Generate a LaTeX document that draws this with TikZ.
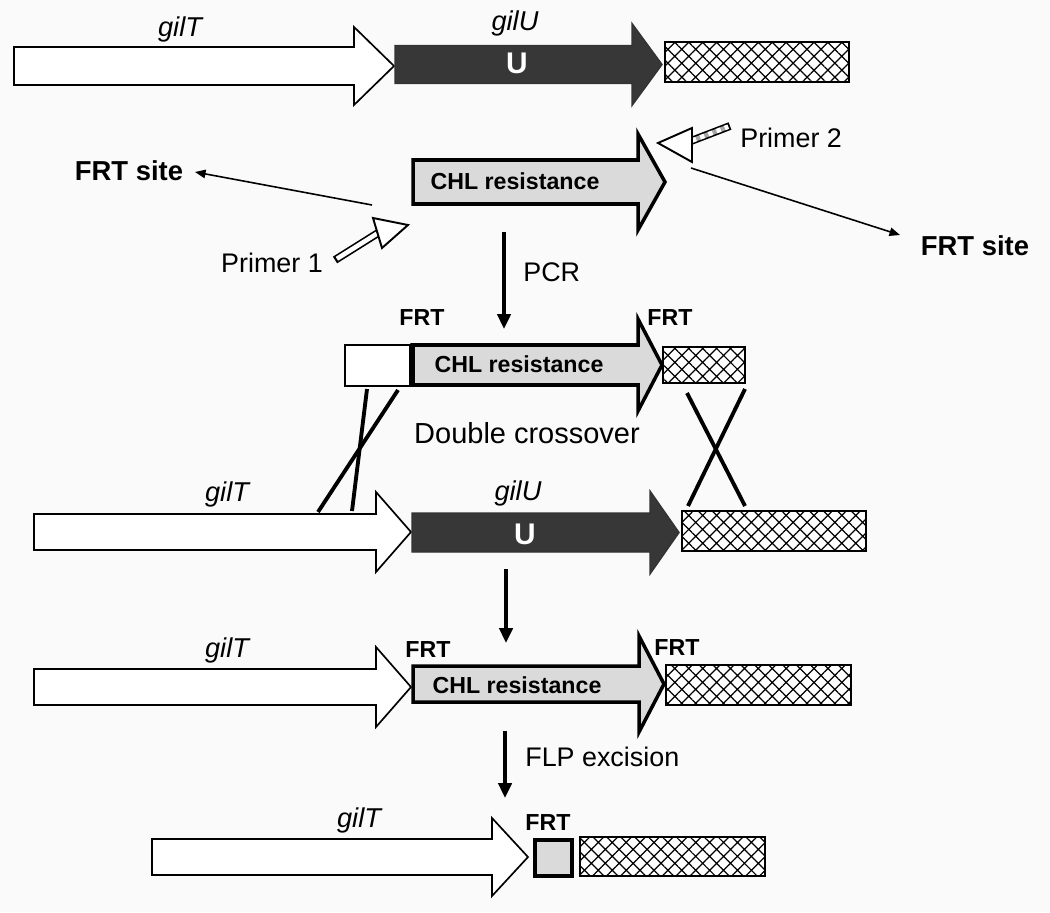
\documentclass[tikz,border=0pt]{standalone}
\usepackage{fontspec}
\setmainfont{Liberation Sans}
\usetikzlibrary{patterns.meta,arrows.meta}
\definecolor{bg}{RGB}{250,250,250}
\definecolor{darkfill}{RGB}{55,55,55}
\definecolor{chlfill}{RGB}{218,218,218}
\newcommand\gene[7]{\draw[#1] (#2,#5-#6) -- (#3,#5-#6) -- (#3,#5-#7) -- (#4,#5) -- (#3,#5+#7) -- (#3,#5+#6) -- (#2,#5+#6) -- cycle;}
\tikzset{
  whitegene/.style={draw=black, fill=white, line width=0.95pt, line join=miter},
  darkgene/.style={draw=black!80, fill=darkfill, line width=0.8pt, line join=miter},
  chlgene/.style={draw=black, fill=chlfill, line width=2pt, line join=miter},
  hatchbox/.style={draw=black, line width=0.8pt, preaction={fill=white}, pattern={Hatch[angle=45,distance=5.6pt,line width=0.7pt]}},
  plainbox/.style={draw=black, fill=white, line width=0.9pt},
  frtbox/.style={draw=black, fill=chlfill, line width=2.2pt},
  primertri/.style={draw=black, fill=white, line width=1.1pt, line join=miter},
  lbl/.style={font=\fontsize{15.3}{18}\selectfont, inner sep=0pt},
  glbl/.style={font=\fontsize{15.5}{18}\selectfont\itshape, inner sep=0pt},
  blbl/.style={font=\fontsize{13.2}{16}\selectfont\bfseries, inner sep=0pt},
  slbl/.style={font=\fontsize{15.6}{18}\selectfont\bfseries, inner sep=0pt},
  ulbl/.style={font=\fontsize{17}{19}\selectfont\bfseries, text=white, inner sep=0pt},
  vconn/.style={line width=2.2pt, -{Triangle[length=8.5pt,width=7.5pt]}},
  thinconn/.style={line width=0.9pt, -{Triangle[length=6pt,width=4.8pt]}},
  xline/.style={line width=2.2pt},
}
\begin{document}
\begin{tikzpicture}[x=0.02cm,y=-0.02cm]
\fill[bg] (0,0) rectangle (1050,912);
\useasboundingbox (0,0) rectangle (1050,912);

% ---------- Row 1: wild type ----------
\gene{whitegene}{14}{354}{394}{66}{19}{39}
\gene{darkgene}{395}{632}{662}{64.5}{19}{41}
\draw[hatchbox] (665,42) rectangle (849,82);
\node[glbl, anchor=base] (gilT1) at (180,37) {gilT};
\node[glbl, anchor=base] (gilU1) at (515,31) {gilU};
\node[ulbl, anchor=base] (U1) at (517,74) {U};

% ---------- Row 2: CHL template with primers ----------
\gene{chlgene}{413}{638}{665}{182}{22}{48}
\node[blbl, anchor=base] (chl2) at (515,190) {CHL resistance};

% primer 2
\draw[line width=4.5pt] (691,141) -- (730,126);
\draw[line width=2.6pt, black!35] (692,140.6) -- (728.2,126.7);
\draw[line width=2.6pt, white, dash pattern=on 2.5pt off 2.5pt] (692,140.6) -- (728.2,126.7);
\draw[primertri] (658,143) -- (692,128) -- (692,162) -- cycle;
\node[lbl, anchor=base west] (primer2) at (740,148) {Primer 2};

% primer 1
\draw[line width=4.5pt] (378,233) -- (335,260);
\draw[line width=2.6pt, white] (377,233.6) -- (336.9,258.8);
\draw[primertri] (408,225) -- (373,218) -- (382,248) -- cycle;
\node[lbl, anchor=base] (primer1) at (272,272) {Primer 1};

% FRT site labels
\node[slbl, anchor=base] (site1) at (129,180) {FRT site};
\node[slbl, anchor=base] (site2) at (975,255) {FRT site};
\coordinate (s1a) at (372,205);
\coordinate (s1b) at (195,172);
\coordinate (s2a) at (691,168);
\coordinate (s2b) at (900,235);
\draw[thinconn] (s1a) -- (s1b);
\draw[thinconn] (s2a) -- (s2b);

% PCR arrow
\coordinate (pcrA) at (504,232);
\coordinate (pcrB) at (504,329);
\draw[vconn] (pcrA) -- (pcrB);
\node[lbl, anchor=base west] (pcr) at (523,281) {PCR};

% ---------- Row 3: PCR product ----------
\draw[plainbox] (345,345) rectangle (410,386);
\gene{chlgene}{412}{638}{662}{365}{20}{46}
\draw[line width=2.8pt] (413,344) -- (413,386);
\draw[hatchbox] (663,347) rectangle (745,383);
\node[blbl, anchor=base] (chl3) at (519,372) {CHL resistance};
\node[blbl, anchor=base] (frt3a) at (422,325) {FRT};
\node[blbl, anchor=base] (frt3b) at (670,325) {FRT};

% crossover lines
\coordinate (xa1) at (367,389); \coordinate (xa2) at (352,511);
\coordinate (xb1) at (398,390); \coordinate (xb2) at (318,512);
\coordinate (xc1) at (687,393); \coordinate (xc2) at (745,506);
\coordinate (xd1) at (745,389); \coordinate (xd2) at (688,506);
\draw[xline] (xa1) -- (xa2);
\draw[xline] (xb1) -- (xb2);
\draw[xline] (xc1) -- (xc2);
\draw[xline] (xd1) -- (xd2);
\node[font=\fontsize{16.5}{19}\selectfont, inner sep=0pt, anchor=base] (dco) at (527,443) {Double crossover};

% ---------- Row 4: chromosome ----------
\gene{whitegene}{34}{376}{411}{532}{18}{40}
\gene{darkgene}{412}{650}{679}{532.5}{19.5}{41.5}
\draw[hatchbox] (682,511) rectangle (866,551);
\node[glbl, anchor=base] (gilT4) at (227,501) {gilT};
\node[glbl, anchor=base] (gilU4) at (518,500) {gilU};
\node[ulbl, anchor=base] (U4) at (525,544) {U};

\coordinate (midA) at (506,569);
\coordinate (midB) at (506,643);
\draw[vconn] (midA) -- (midB);

% ---------- Row 5: replaced ----------
\gene{whitegene}{34}{376}{411}{687}{18}{40}
\gene{chlgene}{413}{639}{664}{684}{18}{48}
\draw[hatchbox] (666,665) rectangle (851,705);
\node[glbl, anchor=base] (gilT5) at (227,657) {gilT};
\node[blbl, anchor=base] (chl5) at (517,693) {CHL resistance};
\node[blbl, anchor=base] (frt5a) at (428,657) {FRT};
\node[blbl, anchor=base] (frt5b) at (677,655) {FRT};

\coordinate (flpA) at (505,731);
\coordinate (flpB) at (505,798);
\draw[vconn] (flpA) -- (flpB);
\node[lbl, anchor=base west] (flp) at (525,766) {FLP excision};

% ---------- Row 6: excised ----------
\gene{whitegene}{152}{492}{528}{857}{18}{39}
\draw[frtbox] (535,840) rectangle (572,876);
\draw[hatchbox] (580,837) rectangle (765,876);
\node[glbl, anchor=base] (gilT6) at (359,827) {gilT};
\node[blbl, anchor=base] (frt6) at (548,830) {FRT};
\end{tikzpicture}
\end{document}
